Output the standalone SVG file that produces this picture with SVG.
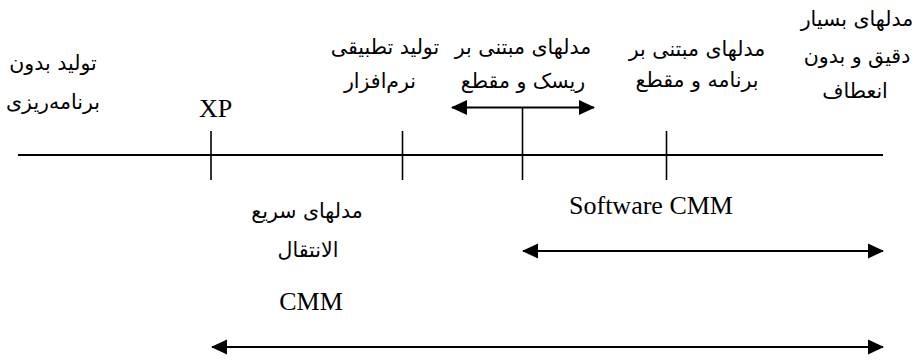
<svg xmlns="http://www.w3.org/2000/svg" width="922" height="360" viewBox="0 0 922 360">
  <style>
    .fa { font-family: "DejaVu Sans", "Noto Sans", sans-serif; font-size: 20.5px; fill: #000; text-anchor: middle; }
    .en { font-family: "Liberation Serif", "Times New Roman", serif; font-size: 26px; fill: #000; text-anchor: middle; }
    .axis { stroke: #000; stroke-width: 2; fill: none; }
    .tick { stroke: #000; stroke-width: 1.6; fill: none; }
    .span { stroke: #000; stroke-width: 2; fill: none; marker-start: url(#head); marker-end: url(#head); }
  </style>
  <defs>
    <marker id="head" markerUnits="userSpaceOnUse" markerWidth="16" markerHeight="16" refX="15" refY="8" orient="auto-start-reverse" viewBox="0 0 16 16">
      <path d="M0,0.5 L16,8 L0,15.5 Z" fill="#000"/>
    </marker>
  </defs>

  <!-- timeline axis and stage ticks -->
  <g id="timeline">
    <line class="axis" x1="18" y1="155" x2="883" y2="155"/>
    <line class="tick" x1="211" y1="131" x2="211" y2="180"/>
    <line class="tick" x1="402.5" y1="131" x2="402.5" y2="180"/>
    <line class="tick" x1="522.5" y1="107.5" x2="522.5" y2="180"/>
    <line class="tick" x1="666.5" y1="131" x2="666.5" y2="180"/>
  </g>

  <!-- range arrows -->
  <g id="connectors">
    <line class="span" x1="452" y1="107.5" x2="594" y2="107.5"/>
    <line class="span" x1="523" y1="251" x2="883" y2="251"/>
    <line class="span" x1="212" y1="347" x2="883" y2="347"/>
  </g>

  <g id="unplanned">
    <text class="fa" x="53" y="70">تولید بدون</text>
    <text class="fa" x="53" y="109">برنامه‌ریزی</text>
  </g>

  <g id="xp">
    <text class="en" x="215.5" y="117">XP</text>
  </g>

  <g id="adaptive">
    <text class="fa" x="385" y="54">تولید تطبیقی</text>
    <text class="fa" x="380" y="88">نرم‌افزار</text>
  </g>

  <g id="risk-based">
    <text class="fa" x="523" y="54">مدلهای مبتنی بر</text>
    <text class="fa" x="523" y="88">ریسک و مقطع</text>
  </g>

  <g id="plan-based">
    <text class="fa" x="697" y="56">مدلهای مبتنی بر</text>
    <text class="fa" x="697" y="87">برنامه و مقطع</text>
  </g>

  <g id="rigid">
    <text class="fa" x="857" y="26">مدلهای بسیار</text>
    <text class="fa" x="857" y="63">دقیق و بدون</text>
    <text class="fa" x="855" y="98">انعطاف</text>
  </g>

  <g id="agile">
    <text class="fa" x="307" y="218">مدلهای سریع</text>
    <text class="fa" x="308" y="257">الانتقال</text>
  </g>

  <g id="software-cmm">
    <text class="en" x="651" y="214">Software CMM</text>
  </g>

  <g id="cmm">
    <text class="en" x="311" y="310">CMM</text>
  </g>
</svg>
